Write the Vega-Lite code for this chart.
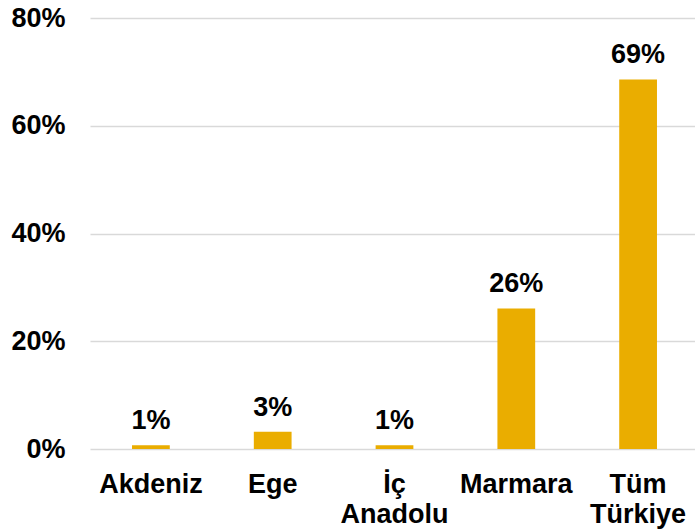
{
  "$schema": "https://vega.github.io/schema/vega-lite/v6.json",
  "width": 609,
  "height": 431,
  "autosize": {"type": "none"},
  "padding": {"left": 90, "top": 18, "right": 0, "bottom": 82},
  "background": "white",
  "config": {"view": {"stroke": null}, "font": "Liberation Sans"},
  "data": {"values": [
    {"region": "Akdeniz", "value": 0.007},
    {"region": "Ege", "value": 0.032},
    {"region": "İç Anadolu", "value": 0.007},
    {"region": "Marmara", "value": 0.261},
    {"region": "Tüm Türkiye", "value": 0.686}
  ]},
  "encoding": {
    "x": {"field": "region", "type": "nominal", "sort": null,
      "scale": {"paddingInner": 0.69, "paddingOuter": 0.345},
      "axis": {"title": null, "labelAngle": 0, "domain": false, "ticks": false,
        "labelFont": "Liberation Sans", "labelFontWeight": "bold", "labelFontSize": 27,
        "labelColor": "black", "labelPadding": 22, "labelLineHeight": 30,
        "labelExpr": "split(datum.label, ' ')", "labelBaseline": "top"}},
    "y": {"field": "value", "type": "quantitative",
      "scale": {"domain": [0, 0.8], "nice": false},
      "axis": {"title": null, "values": [0, 0.2, 0.4, 0.6, 0.8], "format": ".0%",
        "domain": false, "ticks": false, "labelPadding": 25,
        "labelFont": "Liberation Sans", "labelFontWeight": "bold", "labelFontSize": 27,
        "labelColor": "black", "gridColor": "#D9D9D9", "gridWidth": 1.5}}
  },
  "layer": [
    {"mark": {"type": "bar", "color": "#EAAD00"}},
    {"mark": {"type": "text", "font": "Liberation Sans", "fontWeight": "bold", "fontSize": 27,
      "color": "black", "baseline": "alphabetic", "dy": -16},
     "encoding": {"text": {"field": "value", "type": "quantitative", "format": ".0%"}}}
  ]
}
